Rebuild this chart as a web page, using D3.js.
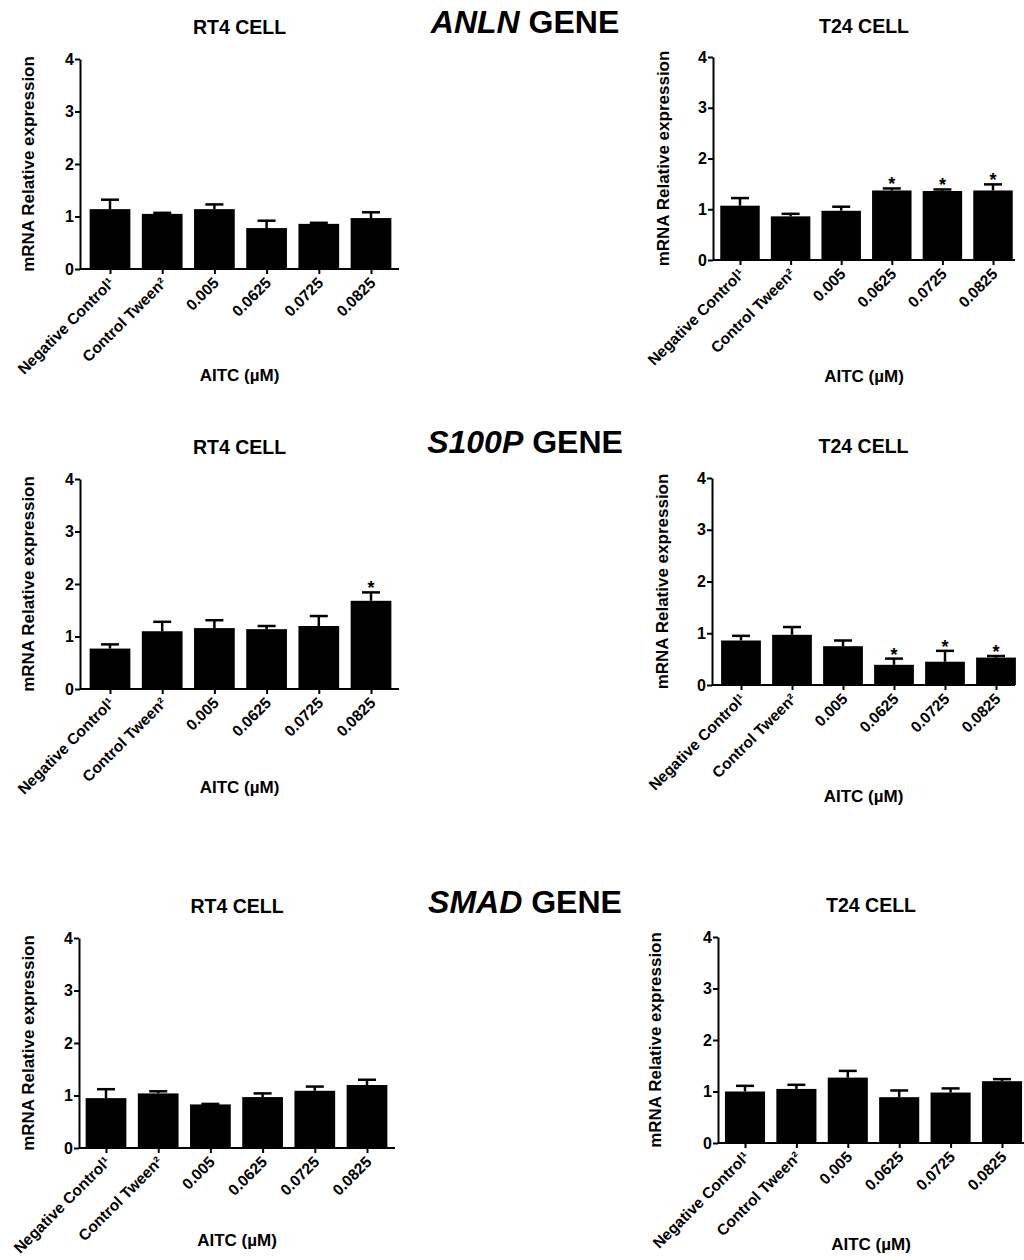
<!DOCTYPE html>
<html>
<head>
<meta charset="utf-8">
<script src="https://cdn.jsdelivr.net/npm/d3@7"></script>
<style>
  body { margin: 0; background: #fff; }
  text { font-family: "Liberation Sans", Arial, sans-serif; font-weight: bold; fill: #000; }
</style>
</head>
<body>
<script>
// categories on the x axis
var categories = ["Negative Control\u00b9", "Control Tween\u00b2", "0.005", "0.0625", "0.0725", "0.0825"];
var yTicks = [0, 1, 2, 3, 4];

// ANLN
var anlnRt4Mean = [1.14, 1.05, 1.14, 0.78, 0.86, 0.97];
var anlnRt4Err  = [0.18, 0.02, 0.09, 0.14, 0.02, 0.11];
var anlnT24Mean = [1.07, 0.86, 0.97, 1.37, 1.36, 1.37];
var anlnT24Err  = [0.15, 0.05, 0.08, 0.04, 0.03, 0.12];
var anlnT24Star = [false, false, false, true, true, true];

// S100P
var s100pRt4Mean = [0.77, 1.10, 1.16, 1.14, 1.20, 1.68];
var s100pRt4Err  = [0.08, 0.18, 0.15, 0.06, 0.19, 0.16];
var s100pRt4Star = [false, false, false, false, false, true];
var s100pT24Mean = [0.86, 0.97, 0.75, 0.39, 0.45, 0.53];
var s100pT24Err  = [0.09, 0.15, 0.11, 0.12, 0.21, 0.03];
var s100pT24Star = [false, false, false, true, true, true];

// SMAD
var smadRt4Mean = [0.95, 1.04, 0.83, 0.97, 1.09, 1.20];
var smadRt4Err  = [0.17, 0.04, 0.01, 0.07, 0.08, 0.10];
var smadT24Mean = [1.00, 1.05, 1.27, 0.89, 0.98, 1.20];
var smadT24Err  = [0.11, 0.08, 0.13, 0.13, 0.08, 0.04];

var noStar = [false, false, false, false, false, false];

var width = 1024, height = 1260;

var svg = d3.select("body").append("svg")
    .attr("width", width)
    .attr("height", height);

svg.append("rect").attr("width", width).attr("height", height).attr("fill", "#fff");

// gene headings
var genes = [
  {name: "ANLN", y: 33},
  {name: "S100P", y: 453},
  {name: "SMAD", y: 913}
];
genes.forEach(function(g) {
  var t = svg.append("text")
      .attr("x", 525)
      .attr("y", g.y)
      .attr("text-anchor", "middle")
      .style("font-size", "32px");
  t.append("tspan").style("font-style", "italic").text(g.name);
  t.append("tspan").text(" GENE");
});

// one panel per gene/cell line
var panels = [
  {title: "RT4 CELL", mean: anlnRt4Mean, err: anlnRt4Err, star: noStar,
   x0: 80, top: 59, base: 269, first: 110, last: 371, xEnd: 399, titleY: 34, labelX: 28, aitcY: 381},
  {title: "T24 CELL", mean: anlnT24Mean, err: anlnT24Err, star: anlnT24Star,
   x0: 713, top: 57, base: 260, first: 740, last: 993, xEnd: 1015, titleY: 33, labelX: 663, aitcY: 382},
  {title: "RT4 CELL", mean: s100pRt4Mean, err: s100pRt4Err, star: s100pRt4Star,
   x0: 80, top: 479, base: 689, first: 110, last: 371, xEnd: 399, titleY: 454, labelX: 28, aitcY: 793},
  {title: "T24 CELL", mean: s100pT24Mean, err: s100pT24Err, star: s100pT24Star,
   x0: 712, top: 478, base: 685, first: 741, last: 996, xEnd: 1015, titleY: 453, labelX: 662, aitcY: 802},
  {title: "RT4 CELL", mean: smadRt4Mean, err: smadRt4Err, star: noStar,
   x0: 79, top: 938, base: 1148, first: 106, last: 367, xEnd: 395, titleY: 913, labelX: 28, aitcY: 1246},
  {title: "T24 CELL", mean: smadT24Mean, err: smadT24Err, star: noStar,
   x0: 718, top: 937, base: 1143, first: 745, last: 1002, xEnd: 1024, titleY: 912, labelX: 655, aitcY: 1250}
];

panels.forEach(function(p) {
  var g = svg.append("g");

  var x = d3.scalePoint().domain(categories).range([p.first, p.last]);
  var y = d3.scaleLinear().domain([0, 4]).range([p.base, p.top]);
  var barW = x.step() * 0.78;

  var rows = categories.map(function(c, i) {
    return {cat: c, mean: p.mean[i], err: p.err[i], star: p.star[i]};
  });

  // bars
  g.selectAll("rect.bar")
    .data(rows)
    .enter().append("rect")
      .attr("class", "bar")
      .attr("x", function(d) { return x(d.cat) - barW / 2; })
      .attr("y", function(d) { return y(d.mean); })
      .attr("width", barW)
      .attr("height", function(d) { return y(0) - y(d.mean); })
      .attr("fill", "#000");

  // upper error bars
  g.selectAll("line.err")
    .data(rows)
    .enter().append("line")
      .attr("class", "err")
      .attr("x1", function(d) { return x(d.cat); })
      .attr("x2", function(d) { return x(d.cat); })
      .attr("y1", function(d) { return y(d.mean); })
      .attr("y2", function(d) { return y(d.mean + d.err); })
      .attr("stroke", "#000")
      .attr("stroke-width", 2.5);
  g.selectAll("line.cap")
    .data(rows)
    .enter().append("line")
      .attr("class", "cap")
      .attr("x1", function(d) { return x(d.cat) - 9; })
      .attr("x2", function(d) { return x(d.cat) + 9; })
      .attr("y1", function(d) { return y(d.mean + d.err); })
      .attr("y2", function(d) { return y(d.mean + d.err); })
      .attr("stroke", "#000")
      .attr("stroke-width", 2.5);

  // significance stars
  g.selectAll("text.star")
    .data(rows.filter(function(d) { return d.star; }))
    .enter().append("text")
      .attr("class", "star")
      .attr("x", function(d) { return x(d.cat); })
      .attr("y", function(d) { return y(d.mean + d.err) + 2; })
      .attr("text-anchor", "middle")
      .style("font-size", "18px")
      .text("*");

  // y axis
  var yAxis = g.append("g")
      .attr("transform", "translate(" + p.x0 + ",0)")
      .call(d3.axisLeft(y).tickValues(yTicks).tickFormat(d3.format("d")).tickSize(5).tickSizeOuter(0));
  yAxis.select(".domain").attr("stroke-width", 2);
  yAxis.selectAll(".tick line").attr("stroke-width", 2);
  yAxis.selectAll(".tick text")
      .attr("x", -6)
      .style("font-size", "16px")
      .style("font-family", "'Liberation Sans', Arial, sans-serif")
      .style("font-weight", "bold");

  // x axis
  var xAxis = g.append("g")
      .attr("transform", "translate(0," + p.base + ")")
      .call(d3.axisBottom(x).tickSize(5).tickSizeOuter(0));
  xAxis.select(".domain").remove();
  xAxis.append("line")
      .attr("x1", p.x0).attr("x2", p.xEnd)
      .attr("stroke", "#000").attr("stroke-width", 2);
  xAxis.selectAll(".tick line").attr("stroke-width", 2);
  xAxis.selectAll(".tick text")
      .attr("y", 0).attr("dy", 0)
      .attr("text-anchor", "end")
      .attr("transform", "translate(5,15) rotate(-45)")
      .style("font-size", "15.5px")
      .style("font-family", "'Liberation Sans', Arial, sans-serif")
      .style("font-weight", "bold");

  // titles
  var cx = (p.x0 + p.xEnd) / 2;
  g.append("text")
      .attr("x", cx)
      .attr("y", p.titleY)
      .attr("text-anchor", "middle")
      .style("font-size", "19.5px")
      .text(p.title);

  g.append("text")
      .attr("x", cx)
      .attr("y", p.aitcY)
      .attr("text-anchor", "middle")
      .style("font-size", "17px")
      .text("AITC (\u00b5M)");

  g.append("text")
      .attr("transform", "translate(" + p.labelX + "," + ((p.top + p.base) / 2) + ") rotate(-90)")
      .attr("text-anchor", "middle")
      .attr("dy", "0.35em")
      .style("font-size", "17px")
      .text("mRNA Relative expression");
});
</script>
</body>
</html>
